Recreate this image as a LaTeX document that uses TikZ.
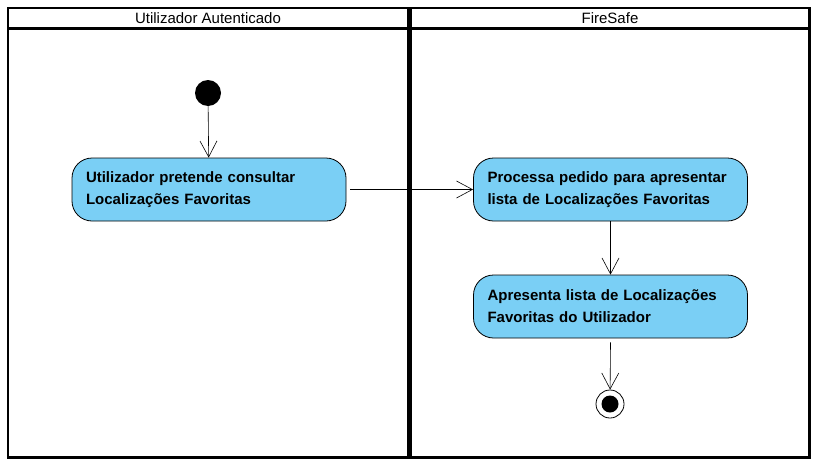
\documentclass[tikz,border=0pt]{standalone}
\usepackage{fontspec}
\setmainfont{Liberation Sans}
\usetikzlibrary{arrows.meta}
\definecolor{actblue}{RGB}{122,207,245}
\begin{document}
\begin{tikzpicture}[x=1pt,y=-1pt]
      \tikzstyle{arrow} = [semithick,-{Straight Barb[length=16pt,width=17pt]}]
      \tikzstyle{action} = [rectangle, rounded corners=20pt, minimum width=274pt, minimum height=63pt, text width=246pt, inner xsep=14pt, align=left, draw=black, thick, fill=actblue, font=\bfseries\fontsize{15}{22}\selectfont]
      \tikzstyle{lanehead} = [font=\fontsize{15}{17}\selectfont]
      \useasboundingbox (0,0) rectangle (819,466);
      % swimlanes
      \draw [line width=2.5pt] (8,8) rectangle (809.5,457.5);
      \draw [line width=3pt] (8,28.5) -- (809.5,28.5);
      \draw [line width=5pt] (409.5,8) -- (409.5,457.5);
      \node (lane-user) [lanehead] at (208,18.5) {Utilizador Autenticado};
      \node (lane-sys) [lanehead] at (610,18.5) {FireSafe};
      % activities
      \node (start) [circle, fill=black, minimum size=26pt, inner sep=0pt] at (208,93) {};
      \path[] node[action] (A) at (209,189.5) {Utilizador pretende consultar\\Localizações Favoritas};
      \path[] node[action] (B) at (610.5,189.5) {Processa pedido para apresentar\\lista de Localizações Favoritas};
      \path[] node[action] (C) at (610.5,306.5) {Apresenta lista de Localizações\\Favoritas do Utilizador};
      \node (end) [circle, draw=black, thick, minimum size=28pt, inner sep=0pt] at (610,404) {};
      \node (end-dot) [circle, fill=black, minimum size=17pt, inner sep=0pt] at (end) {};
      \draw [arrow] (start) -- (A);
      \draw [arrow] ([xshift=4pt]A.east) -- (B);
      \draw [arrow] (B) -- (C);
      \draw [arrow] (C.south) ++(0,4) -- (end);
  \end{tikzpicture}
\end{document}
